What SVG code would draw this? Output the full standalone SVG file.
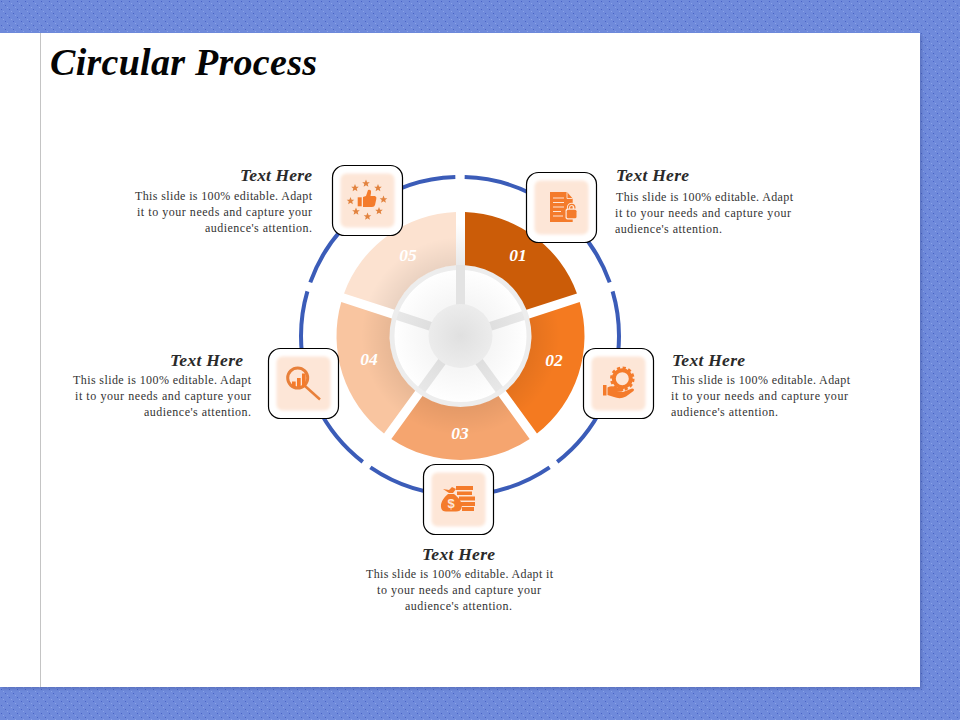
<svg xmlns="http://www.w3.org/2000/svg" width="960" height="720" viewBox="0 0 960 720">
<style>
.title{font:italic bold 38px "Liberation Serif",serif;fill:#050505}
.h{font:italic bold 17.5px "Liberation Serif",serif;fill:#2a2a2a}
.b{font:12px "Liberation Serif",serif;fill:#333}
.n{font:italic bold 17.5px "Liberation Serif",serif;fill:#fff;text-anchor:middle}
.box{fill:#fff;stroke:#000;stroke-width:1.2}
.tint{fill:#fde6d7;filter:url(#soft)}
.ic{fill:#f47b2b}
.w{stroke:#fde6d7;stroke-width:1.2;fill:none}
</style>
<defs>
<pattern id="bg" width="8" height="8" patternUnits="userSpaceOnUse">
<rect width="8" height="8" fill="#6f8adb"/>
<rect x="1" y="1" width="1" height="1" fill="#4a64c6"/>
<rect x="5" y="5" width="1" height="1" fill="#4a64c6"/>
<rect x="3" y="3" width="1" height="1" fill="#8ba2e8"/>
<rect x="7" y="7" width="1" height="1" fill="#8ba2e8"/>
</pattern>
<filter id="soft" x="-20%" y="-20%" width="140%" height="140%"><feGaussianBlur stdDeviation="1.5"/></filter>
<filter id="sh" x="-5%" y="-5%" width="110%" height="110%"><feGaussianBlur stdDeviation="1.5"/></filter>
<path id="seg" d="M4.500 -123.920A124 124 0 0 1 116.460 -42.570L66 -26.170A71 71 0 0 0 4.500 -70.860Z"/>
<radialGradient id="shade" gradientUnits="userSpaceOnUse" cx="0" cy="0" r="124">
<stop offset=".57" stop-color="#000" stop-opacity=".07"/><stop offset=".8" stop-color="#000" stop-opacity="0"/>
</radialGradient>
<linearGradient id="sp" gradientUnits="userSpaceOnUse" x1="0" y1="-30" x2="0" y2="-112">
<stop offset="0" stop-color="#dedede"/><stop offset=".5" stop-color="#e9e9e9"/><stop offset="1" stop-color="#fff"/>
</linearGradient>
<radialGradient id="hub" cx=".5" cy=".5" r=".5"><stop offset="0" stop-color="#e0e0e0"/><stop offset="1" stop-color="#ececec"/></radialGradient>
<radialGradient id="core" cx=".5" cy=".5" r=".5"><stop offset=".5" stop-color="#f6f6f6"/><stop offset="1" stop-color="#fff"/></radialGradient>
<polygon id="star" points="0,-4 1.100,-1.300 3.800,-1.200 1.700,0.600 2.400,3.200 0,1.800 -2.400,3.200 -1.700,0.600 -3.800,-1.200 -1.100,-1.300" fill="#e2833f"/>
<rect id="boxr" class="box" width="70" height="70" rx="12"/>
<rect id="tintr" class="tint" x="8" y="8" width="54" height="54" rx="6"/>
</defs>

<rect width="960" height="720" fill="url(#bg)"/>
<rect x="2" y="35" width="920" height="654" fill="#34478f" opacity=".35" filter="url(#sh)"/>
<rect x="0" y="33" width="920" height="654" fill="#fff"/>
<line x1="40.500" y1="33" x2="40.500" y2="687" stroke="#c4c4c4" stroke-width="1"/>
<text class="title" x="50" y="75" textLength="267" lengthAdjust="spacing">Circular Process</text>

<g id="connectors">
<circle cx="460" cy="336" r="159" fill="none" stroke="#3b5cb8" stroke-width="4" pathLength="360" stroke-dasharray="68.600 3.400" stroke-dashoffset="-1.700" transform="rotate(-90 460 336)"/>
</g>

<g id="wheel">
<g transform="translate(460.500 336)">
<circle r="68" fill="url(#core)"/>
<g fill="url(#sp)">
<rect x="-4.500" y="-112" width="9" height="82"/>
<rect x="-4.500" y="-70" width="9" height="40" transform="rotate(72)"/>
<rect x="-4.500" y="-70" width="9" height="40" transform="rotate(144)"/>
<rect x="-4.500" y="-70" width="9" height="40" transform="rotate(216)"/>
<rect x="-4.500" y="-70" width="9" height="40" transform="rotate(288)"/>
</g>
<circle r="68.500" fill="none" stroke="#ededed" stroke-width="5"/>
<rect x="-4.500" y="-71" width="9" height="41" fill="#e3e3e3"/>
<circle r="32" fill="url(#hub)"/>
<g id="seg1"><use href="#seg" fill="#cb5c08"/></g>
<g id="seg2" transform="rotate(72)"><use href="#seg" fill="#f47a20"/><use href="#seg" fill="url(#shade)"/></g>
<g id="seg3" transform="rotate(144)"><use href="#seg" fill="#f5a56f"/><use href="#seg" fill="url(#shade)"/></g>
<g id="seg4" transform="rotate(216)"><use href="#seg" fill="#f9c5a0"/><use href="#seg" fill="url(#shade)"/></g>
<g id="seg5" transform="rotate(288)"><use href="#seg" fill="#fce2d0"/><use href="#seg" fill="url(#shade)"/></g>
</g>
<text class="n" x="518" y="261">01</text>
<text class="n" x="554" y="366">02</text>
<text class="n" x="460" y="439">03</text>
<text class="n" x="369" y="365">04</text>
<text class="n" x="408" y="261">05</text>
</g>

<g id="node-05">
<g transform="translate(332.500 165.500)"><use href="#boxr"/><use href="#tintr"/></g>
<use href="#star" x="366" y="183.500"/><use href="#star" x="378" y="188"/><use href="#star" x="383.500" y="199.500"/><use href="#star" x="379" y="211"/><use href="#star" x="367.500" y="216.500"/><use href="#star" x="356" y="211.500"/><use href="#star" x="350.500" y="201"/><use href="#star" x="355" y="188"/>
<rect class="ic" x="357.700" y="197.300" width="4" height="9"/>
<path class="ic" d="M363 197L366 196L368 190Q371.500 189 371 193L370.500 196L375 196Q377 197 376.300 199L375 205Q374.500 207 372 207L363 207Z"/>
<text class="h" x="312" y="181" text-anchor="end" textLength="72">Text Here</text>
<text class="b" x="135" y="200" textLength="177">This slide is 100%  editable. Adapt</text>
<text class="b" x="137" y="216" textLength="175">it to your needs and capture your</text>
<text class="b" x="205" y="232" textLength="107">audience's attention.</text>
</g>

<g id="node-01">
<g transform="translate(526.500 172.500)"><use href="#boxr"/><use href="#tintr"/></g>
<path class="ic" d="M550 192H567L572.700 198.500V222H550Z"/>
<path d="M567 192V198.500H572.700" fill="none" stroke="#fde6d7" stroke-width=".9"/>
<path class="w" d="M553 198H564M553 202.500H564M553 207H564M553 211.500H561M553 216H563"/>
<path d="M568.500 209.500V207.500a3.200 3.200 0 0 1 6.400 0V209.500" fill="none" stroke="#fde6d7" stroke-width="3.200"/>
<path d="M568.500 209.500V207.500a3.200 3.200 0 0 1 6.400 0V209.500" fill="none" stroke="#f47b2b" stroke-width="1.200"/>
<rect x="565.500" y="208.500" width="12.200" height="11" rx="2" fill="#fde6d7"/>
<rect class="ic" x="566.700" y="209.700" width="9.800" height="8.600" rx="1.500"/>
<text class="h" x="616" y="181" textLength="73">Text Here</text>
<text class="b" x="616" y="201" textLength="177">This slide is 100%  editable. Adapt</text>
<text class="b" x="615" y="217" textLength="176">it to your needs and capture your</text>
<text class="b" x="615" y="233" textLength="107">audience's attention.</text>
</g>

<g id="node-02">
<g transform="translate(583.500 348.500)"><use href="#boxr"/><use href="#tintr"/></g>
<circle cx="622.300" cy="378.700" r="8.500" fill="none" stroke="#f47b2b" stroke-width="4"/>
<circle cx="622.300" cy="378.700" r="11" fill="none" stroke="#f47b2b" stroke-width="2.500" stroke-dasharray="3.200 2.560"/>
<rect class="ic" x="603" y="385" width="3.500" height="10.500"/>
<path class="ic" d="M607.500 387.500Q612 385 616 387.500L622 388.500Q625 390 622 391.500L616.500 391.800L623 392L632 388.500Q635 388.500 633.500 391L626 396.500Q620 399.500 614 397L607.500 395Z"/>
<text class="h" x="672" y="366" textLength="73">Text Here</text>
<text class="b" x="672" y="384" textLength="178">This slide is 100%  editable. Adapt</text>
<text class="b" x="671" y="400" textLength="177">it to your needs and capture your</text>
<text class="b" x="671" y="416" textLength="107">audience's attention.</text>
</g>

<g id="node-03">
<g transform="translate(423.500 464.500)"><use href="#boxr"/><use href="#tintr"/></g>
<g class="ic">
<rect x="456" y="486" width="17" height="4"/>
<rect x="457" y="491.500" width="15" height="3.500"/>
<rect x="459" y="496.500" width="16" height="4"/>
<rect x="461" y="502" width="14" height="4"/>
<rect x="462" y="507" width="12" height="4"/>
<path d="M443 489L449 490L452 487L456 489L453 493L449 493ZM448 494H454C459 498 463 503 461.500 508Q460.500 511.500 456 511.500H446Q441.500 511.500 441 507C440.500 502 444 497.500 448 494Z"/>
</g>
<text x="451" y="508" text-anchor="middle" style="font:bold 13px 'Liberation Sans',sans-serif;fill:#fde6d7">$</text>
<text class="h" x="422" y="560" textLength="73">Text Here</text>
<text class="b" x="366" y="578" textLength="187">This slide is 100%  editable. Adapt it</text>
<text class="b" x="377" y="594" textLength="164">to your needs and capture your</text>
<text class="b" x="405" y="610" textLength="107">audience's attention.</text>
</g>

<g id="node-04">
<g transform="translate(268.500 348.500)"><use href="#boxr"/><use href="#tintr"/></g>
<circle cx="297.700" cy="378" r="10" fill="none" stroke="#e8803a" stroke-width="3"/>
<line x1="305" y1="386" x2="320" y2="399.500" stroke="#e8803a" stroke-width="2.500"/>
<rect class="ic" x="292" y="381.500" width="3.700" height="5.500"/>
<rect class="ic" x="297" y="378" width="3.700" height="9"/>
<rect class="ic" x="302" y="373.500" width="3.700" height="13.500"/>
<text class="h" x="170" y="366" textLength="73">Text Here</text>
<text class="b" x="73" y="384" textLength="178">This slide is 100%  editable. Adapt</text>
<text class="b" x="75" y="400" textLength="176">it to your needs and capture your</text>
<text class="b" x="144" y="416" textLength="107">audience's attention.</text>
</g>
</svg>
